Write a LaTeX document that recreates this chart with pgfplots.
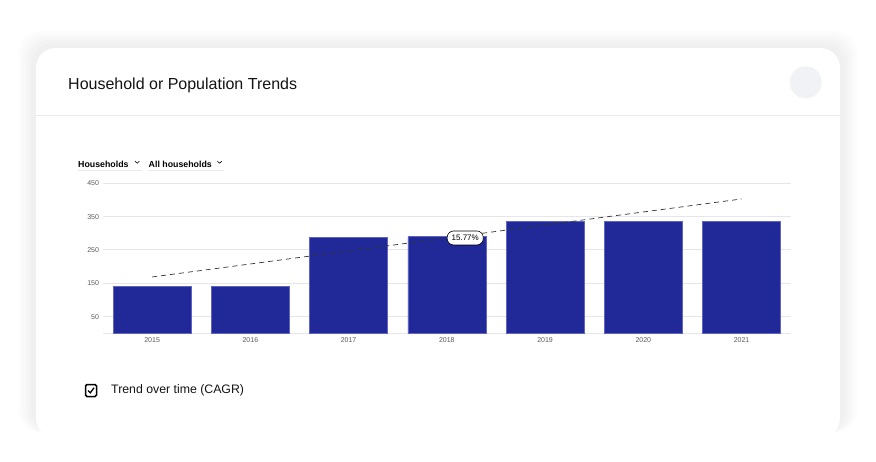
\documentclass[border=0pt]{standalone}
\usepackage{pgfplots}
\pgfplotsset{compat=1.18}
\usepackage{fontspec}
\setmainfont{Liberation Sans}
\definecolor{barblue}{RGB}{33,41,152}
\definecolor{baredge}{RGB}{96,100,196}
\definecolor{gridc}{RGB}{230,230,232}
\definecolor{tickc}{RGB}{90,90,90}
\definecolor{circlec}{RGB}{241,242,246}
\definecolor{divc}{RGB}{234,234,236}
\begin{document}
\begin{tikzpicture}[x=1pt,y=-1pt]
% page
\fill[white] (0,0) rectangle (876,461);
% shadow
\foreach \i in {17,14,11,8,5}{
  \fill[black,opacity=0.013,rounded corners=22pt] (36-\i,48-\i) rectangle (840+\i,432);
}
% card
\fill[white,rounded corners=20pt] (36,48) rectangle (840,438);
\draw[divc,line width=1pt] (36,115) -- (840,115);
\fill[circlec] (805.7,82.3) circle (16);
\node[anchor=west,inner sep=0pt,text=black!92] at (68,85) {\fontsize{16}{19}\selectfont Household or Population Trends};
% dropdowns
\node[anchor=west,inner sep=0pt] at (78,164) {\fontsize{8.8}{10}\selectfont\bfseries Households};
\draw[line width=0.6pt] (135,161.2) -- (137.2,163.2) -- (139.4,161.2);
\node[anchor=west,inner sep=0pt] at (148.5,164) {\fontsize{8.8}{10}\selectfont\bfseries All households};
\draw[line width=0.6pt] (217.4,161.2) -- (219.6,163.2) -- (221.8,161.2);
\draw[divc,line width=1pt] (78,170.5) -- (142,170.5);
\draw[divc,line width=1pt] (148,170.5) -- (224,170.5);
% chart
\begin{axis}[
  at={(103pt,-333.3pt)}, anchor=south west,
  scale only axis, width=687.7pt, height=150pt,
  xmin=-0.5, xmax=6.5, ymin=0, ymax=450,
  axis line style={draw=none},
  major tick length=0pt,
  ytick={50,150,250,350,450},
  xtick={0,1,2,3,4,5,6},
  xticklabels={2015,2016,2017,2018,2019,2020,2021},
  ymajorgrids, grid style={gridc,line width=1pt},
  /pgf/number format/assume math mode=true,
  ticklabel style={font=\fontsize{7}{8}\selectfont,text=tickc},
  yticklabel style={xshift=-0.5pt},
  xticklabel style={yshift=-0.5pt},
  clip=false,
]
\draw[gridc,line width=1pt] (axis cs:-0.5,0) -- (axis cs:6.5,0);
\addplot[ybar, bar width=78pt, bar shift=0pt, fill=barblue, draw=baredge, line width=0.4pt]
  coordinates {(0,140) (1,140) (2,287) (3,290) (4,336) (5,336) (6,336)};
\addplot[black!80, line width=0.7pt, dash pattern=on 5pt off 4pt] coordinates {(0,169) (6,403)};
\node[anchor=west, draw=black, line width=0.6pt, fill=white, rounded corners=6.5pt,
  minimum height=14pt, inner xsep=4.5pt, inner ysep=0pt, font=\fontsize{8}{9}\selectfont]
  at (axis cs:3,286) {15.77\%};
\end{axis}
% checkbox
\draw[black,line width=1.5pt,rounded corners=1.5pt] (85.5,384.5) rectangle (96.5,396.5);
\draw[black,line width=1.3pt] (88,390.5) -- (90.3,392.8) -- (94,387.8);
\node[anchor=west,inner sep=0pt,text=black!92] at (111,390.5) {\fontsize{12.3}{14}\selectfont Trend over time (CAGR)};
\end{tikzpicture}
\end{document}
